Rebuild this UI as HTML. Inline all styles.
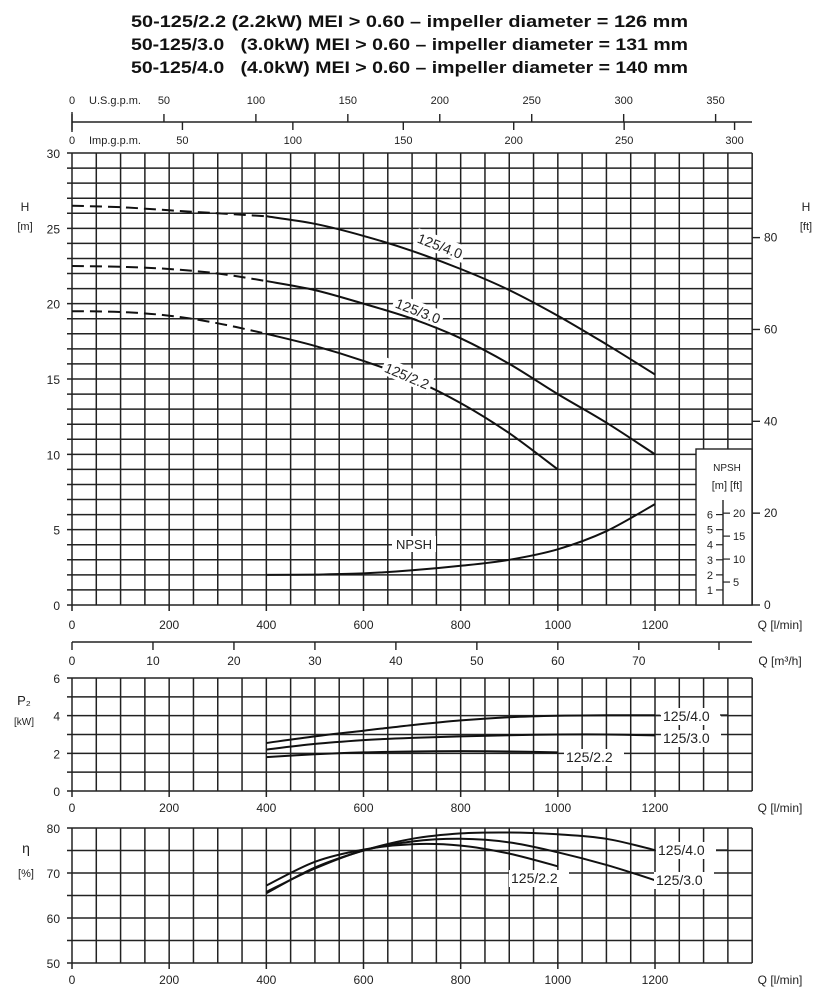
<!DOCTYPE html>
<html><head><meta charset="utf-8"><style>
body{margin:0;background:#fff;}
svg{display:block;font-family:"Liberation Sans",sans-serif;}
</style></head><body>
<svg id="c" width="821" height="1000" viewBox="0 0 821 1000">
<g font-weight="bold" font-size="17" fill="#111">
<text x="131" y="27" textLength="557" lengthAdjust="spacingAndGlyphs">50-125/2.2 (2.2kW) MEI &gt; 0.60 – impeller diameter = 126 mm</text>
<text x="131" y="50" textLength="557" lengthAdjust="spacingAndGlyphs" xml:space="preserve">50-125/3.0   (3.0kW) MEI &gt; 0.60 – impeller diameter = 131 mm</text>
<text x="131" y="73" textLength="557" lengthAdjust="spacingAndGlyphs" xml:space="preserve">50-125/4.0   (4.0kW) MEI &gt; 0.60 – impeller diameter = 140 mm</text>
</g>
<g id="g"></g>
</svg>
<script>
// data
const qGridMax = 1400;
const hTicks = [0,5,10,15,20,25,30];
const qTicks = [0,200,400,600,800,1000,1200];
const ftTicks = [0,20,40,60,80];
const usgpmTicks = [0,50,100,150,200,250,300,350];
const impgpmTicks = [0,50,100,150,200,250,300];
const m3hTicks = [0,10,20,30,40,50,60,70];
const p2Ticks = [0,2,4,6];
const etaTicks = [50,60,70,80];
const npshMTicks = [1,2,3,4,5,6];
const npshFtTicks = [5,10,15,20];

const hQ40 = [0,100,200,300,400,500,600,700,800,900,1000,1100,1200];
const hV40 = [26.5,26.4,26.2,26.0,25.8,25.3,24.5,23.5,22.3,20.9,19.2,17.3,15.3];
const hQ30 = [0,100,200,300,400,500,600,700,800,900,1000,1100,1200];
const hV30 = [22.5,22.45,22.3,22.0,21.5,20.9,20.0,19.0,17.7,16.0,14.0,12.1,10.0];
const hQ22 = [0,100,200,300,400,500,600,700,800,900,1000];
const hV22 = [19.5,19.45,19.2,18.7,18.0,17.2,16.2,15.0,13.4,11.4,9.0];
const npshQ = [400,500,600,700,800,900,1000,1100,1200];
const npshV = [2.0,2.02,2.1,2.3,2.6,3.0,3.7,4.9,6.7];

const pQ40 = [400,500,600,700,800,900,1000,1100,1200];
const pV40 = [2.55,2.9,3.2,3.5,3.75,3.92,4.0,4.02,4.02];
const pQ30 = [400,500,600,700,800,900,1000,1100,1200];
const pV30 = [2.2,2.5,2.7,2.82,2.9,2.96,3.0,3.0,2.95];
const pQ22 = [400,500,600,700,800,900,1000];
const pV22 = [1.8,1.95,2.05,2.1,2.12,2.1,2.05];

const eQ40 = [400,500,600,700,800,900,1000,1100,1200];
const eV40 = [65.5,71.2,75.0,77.6,78.8,79.0,78.6,77.6,75.1];
const eQ30 = [400,500,600,700,800,900,1000,1100,1200];
const eV30 = [65.8,71.0,75.0,77.0,77.6,76.8,74.6,71.8,68.4];
const eQ22 = [400,500,600,700,800,900,1000];
const eV22 = [67.2,72.5,75.2,76.4,76.1,74.3,71.5];

// axes
const X0=72, XS=(655-72)/1200;
const qx = q => X0 + q*XS;
const hy = h => 605 - h*(605-153)/30;
const py = p => 791 - p*(791-678)/6;
const ey = e => 963 - (e-50)*(963-828)/30;
const NS='http://www.w3.org/2000/svg';
const G=document.getElementById('g');
function mk(tag,at,parent){const e=document.createElementNS(NS,tag);for(const k in at)e.setAttribute(k,at[k]);(parent||G).appendChild(e);return e;}
function line(x1,y1,x2,y2,w,p){return mk('line',{x1,y1,x2,y2,stroke:'#222','stroke-width':w||1.4},p);}
function txt(x,y,s,sz,anchor,p){const t=mk('text',{x,y,'font-size':sz||12,'text-anchor':anchor||'middle',fill:'#222'},p);t.textContent=s;return t;}
function smooth(qs,vs,yf){const pts=qs.map((q,i)=>[qx(q),yf(vs[i])]);let d='M'+pts[0][0]+' '+pts[0][1];for(let i=0;i<pts.length-1;i++){const p0=pts[i-1]||pts[i],p1=pts[i],p2=pts[i+1],p3=pts[i+2]||p2;const c1=[p1[0]+(p2[0]-p0[0])/6,p1[1]+(p2[1]-p0[1])/6],c2=[p2[0]-(p3[0]-p1[0])/6,p2[1]-(p3[1]-p1[1])/6];d+=`C${c1[0].toFixed(1)} ${c1[1].toFixed(1)} ${c2[0].toFixed(1)} ${c2[1].toFixed(1)} ${p2[0].toFixed(1)} ${p2[1].toFixed(1)}`;}return d;}
function grid(name,top,bot,yStep,yMin,yMax,yf){
  const g=mk('g',{});
  
  
  for(let q=0;q<=qGridMax;q+=50) line(qx(q),yf(yMax),qx(q),yf(yMin)+(q%200===0&&q<=1200?6:0),1.5,g);
  for(let v=yMin;v<=yMax+1e-6;v+=yStep) line(X0-5,yf(v),qx(qGridMax),yf(v),1.5,g);
  return g;
}
function curve(name,qs,vs,yf,w){const p=mk('path',{d:smooth(qs,vs,yf),fill:'none',stroke:'#111','stroke-width':w||2});return p;}
function split(qs,vs,cut){const a=[[],[]],b=[[],[]];qs.forEach((q,i)=>{if(q<=cut){a[0].push(q);a[1].push(vs[i]);}if(q>=cut){b[0].push(q);b[1].push(vs[i]);}});return [a,b];}

// ===== main H chart =====
grid('h-grid',153,605,1,0,30,hy);
const ta=mk('g',{});


line(X0,122,752,122,1.4,ta);
line(X0,112,X0,132,1.4,ta);
usgpmTicks.forEach(v=>{const x=qx(v*3.785);line(x,114,x,122,1.4,ta);txt(x,104,String(v),11,'middle',ta);});
impgpmTicks.forEach(v=>{const x=qx(v*4.546);line(x,122,x,130,1.4,ta);txt(x,144,String(v),11,'middle',ta);});
txt(89,104,'U.S.g.p.m.',11,'start',ta);
txt(89,144,'Imp.g.p.m.',11,'start',ta);
const la=mk('g',{});


hTicks.forEach(v=>txt(60,hy(v)+5,String(v),12,'end',la));
txt(25,211,'H',12,'middle',la);txt(25,230,'[m]',11,'middle',la);
const ra=mk('g',{});


ftTicks.forEach(v=>{const y=hy(v*0.3048);line(752,y,760,y,1.4,ra);txt(764,y+4,String(v),12,'start',ra);});
txt(806,211,'H',12,'middle',ra);txt(806,230,'[ft]',11,'middle',ra);
const qa=mk('g',{});


qTicks.forEach(v=>txt(qx(v),629,String(v),12,'middle',qa));
txt(780,629,'Q [l/min]',12,'middle',qa);
const ma=mk('g',{});


line(X0,642,752,642,1.4,ma);
m3hTicks.forEach(v=>{const x=qx(v*1000/60);line(x,642,x,650,1.4,ma);txt(x,665,String(v),12,'middle',ma);});
line(719,642,719,650,1.4,ma);
txt(780,665,'Q [m³/h]',12,'middle',ma);
const nb=mk('g',{});


mk('rect',{x:696,y:449,width:56,height:156,fill:'#fff',stroke:'#222','stroke-width':1.4},nb);
txt(727,471,'NPSH',10,'middle',nb);txt(727,489,'[m] [ft]',11,'middle',nb);
line(723,500,723,605,1.4,nb);
npshMTicks.forEach(v=>{const y=hy(v);line(716,y,723,y,1.2,nb);txt(713,y+4,String(v),11,'end',nb);});
npshFtTicks.forEach(v=>{const y=hy(v*0.3048);line(723,y,730,y,1.2,nb);txt(733,y+4,String(v),11,'start',nb);});
[[hQ40,hV40,'h-curve-125-4-0'],[hQ30,hV30,'h-curve-125-3-0'],[hQ22,hV22,'h-curve-125-2-2']].forEach(([qs,vs,n])=>{
  const [a,b]=split(qs,vs,400);
  const d=curve(n+'-dashed',a[0],a[1],hy,2);d.setAttribute('stroke-dasharray','12 6');
  curve(n,b[0],b[1],hy,2);
});
curve('npsh-curve',npshQ,npshV,hy,2);
function clabel(name,x,y,s,rot){const g=mk('g',{transform:`translate(${x},${y}) rotate(${rot})`});mk('rect',{x:-26,y:-9,width:52,height:17,fill:'#fff'},g);txt(0,5,s,14,'middle',g);}
clabel('label-h-125-4-0',440,246,'125/4.0',21);
clabel('label-h-125-3-0',418,311,'125/3.0',21);
clabel('label-h-125-2-2',407,376,'125/2.2',23);
const nl=mk('g',{});


mk('rect',{x:392,y:536,width:44,height:16,fill:'#fff'},nl);txt(414,549,'NPSH',13,'middle',nl);

// ===== P2 chart =====
grid('p2-grid',678,791,1,0,6,py);
const pa=mk('g',{});


p2Ticks.forEach(v=>txt(60,py(v)+5,String(v),12,'end',pa));
txt(24,705,'P₂',13,'middle',pa);txt(24,725,'[kW]',10,'middle',pa);
qTicks.forEach(v=>txt(qx(v),812,String(v),12,'middle',pa));
txt(780,812,'Q [l/min]',12,'middle',pa);
curve('p2-curve-125-4-0',pQ40,pV40,py,2);
curve('p2-curve-125-3-0',pQ30,pV30,py,2);
curve('p2-curve-125-2-2',pQ22,pV22,py,2);
function blabel(name,x,y,s){const g=mk('g',{});mk('rect',{x:x-2,y:y-13,width:60,height:17,fill:'#fff'},g);txt(x,y,s,14,'start',g);}
line(655,py(4.02),660,py(4.02),1.4);
blabel('label-p2-125-4-0',663,721,'125/4.0');
line(720,715,728,715,1.4);
blabel('label-p2-125-3-0',663,743,'125/3.0');
blabel('label-p2-125-2-2',566,762,'125/2.2');

// ===== eta chart =====
grid('eta-grid',828,963,5,50,80,ey);
const ea=mk('g',{});


etaTicks.forEach(v=>txt(60,ey(v)+5,String(v),12,'end',ea));
txt(26,853,'η',14,'middle',ea);txt(26,877,'[%]',11,'middle',ea);
qTicks.forEach(v=>txt(qx(v),984,String(v),12,'middle',ea));
txt(780,984,'Q [l/min]',12,'middle',ea);
curve('eta-curve-125-4-0',eQ40,eV40,ey,2);
curve('eta-curve-125-3-0',eQ30,eV30,ey,2);
curve('eta-curve-125-2-2',eQ22,eV22,ey,2);
line(qx(1000),ey(eV22[eV22.length-1]),qx(1000),ey(75.5),1.4);
blabel('label-eta-125-4-0',658,855,'125/4.0');
line(716,850,728,850,1.4);
blabel('label-eta-125-3-0',656,885,'125/3.0');
blabel('label-eta-125-2-2',511,883,'125/2.2');
</script>
</body></html>
